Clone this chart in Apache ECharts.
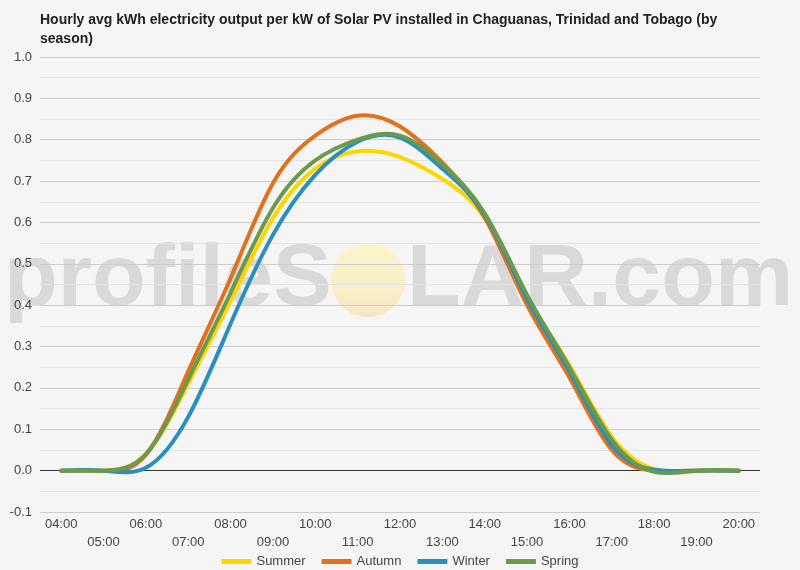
<!DOCTYPE html>
<html>
<head>
<meta charset="utf-8">
<script src="https://cdn.jsdelivr.net/npm/echarts@6/dist/echarts.min.js"></script>
<style>
  html, body { margin: 0; padding: 0; background: #f5f5f5; }
  #chart { width: 800px; height: 570px; }
</style>
</head>
<body>
<div id="chart"></div>
<script>
// hours of the day
var hours = ['04:00', '05:00', '06:00', '07:00', '08:00', '09:00', '10:00', '11:00', '12:00',
             '13:00', '14:00', '15:00', '16:00', '17:00', '18:00', '19:00', '20:00'];

// avg kWh per kW installed, by season
var summer = [0, 0, 0.04, 0.21, 0.41, 0.61, 0.73, 0.772, 0.758, 0.705, 0.61, 0.42, 0.255, 0.082, 0.004, 0, 0];
var autumn = [0, 0, 0.038, 0.24, 0.465, 0.695, 0.81, 0.858, 0.832, 0.745, 0.612, 0.40, 0.225, 0.05, 0, 0, 0];
var winter = [0, 0, 0.007, 0.13, 0.355, 0.57, 0.715, 0.795, 0.805, 0.73, 0.618, 0.415, 0.24, 0.062, 0.002, 0, 0];
var spring = [0, 0, 0.04, 0.22, 0.43, 0.635, 0.75, 0.80, 0.81, 0.74, 0.622, 0.425, 0.25, 0.075, -0.003, 0, 0];

var seasonNames = ['Summer', 'Autumn', 'Winter', 'Spring'];
var seasonColors = ['#fdd600', '#e2711d', '#2a8fbd', '#6b9a4f'];

var chart = echarts.init(document.getElementById('chart'));

// natural cubic spline through the pixel points, returned as svg path data
function splinePath(pts) {
    var n = pts.length, i;
    var h = [], M = new Array(n).fill(0);
    for (i = 0; i < n - 1; i++) h[i] = pts[i + 1][0] - pts[i][0];
    var a = [], b = [], c = [], d = [];
    for (i = 1; i < n - 1; i++) {
        a[i] = h[i - 1];
        b[i] = 2 * (h[i - 1] + h[i]);
        c[i] = h[i];
        d[i] = 6 * ((pts[i + 1][1] - pts[i][1]) / h[i] - (pts[i][1] - pts[i - 1][1]) / h[i - 1]);
    }
    // thomas algorithm
    for (i = 2; i < n - 1; i++) {
        var m = a[i] / b[i - 1];
        b[i] -= m * c[i - 1];
        d[i] -= m * d[i - 1];
    }
    for (i = n - 2; i >= 1; i--) {
        M[i] = (d[i] - (i < n - 2 ? c[i] * M[i + 1] : 0)) / b[i];
    }
    var s = 'M' + pts[0][0] + ' ' + pts[0][1];
    for (i = 0; i < n - 1; i++) {
        var x0 = pts[i][0], y0 = pts[i][1], x1 = pts[i + 1][0], y1 = pts[i + 1][1], hh = h[i];
        var slope = (y1 - y0) / hh;
        var d0 = slope - hh * (2 * M[i] + M[i + 1]) / 6;
        var d1 = slope + hh * (M[i] + 2 * M[i + 1]) / 6;
        s += ' C' + (x0 + hh / 3) + ' ' + (y0 + d0 * hh / 3) + ' ' +
             (x1 - hh / 3) + ' ' + (y1 - d1 * hh / 3) + ' ' + x1 + ' ' + y1;
    }
    return s;
}

function makeSeries(name, values, idx) {
    var s = {
        name: name,
        type: 'custom',
        data: values.map(function (v, i) { return [i, v]; }),
        encode: { x: 0, y: 1 },
        z: 3,
        itemStyle: { color: seasonColors[idx] },
        renderItem: function (params, api) {
            if (params.dataIndex !== 0) return null;
            var pts = values.map(function (v, i) { return api.coord([i, v]); });
            return {
                type: 'path',
                shape: { pathData: splinePath(pts) },
                style: { fill: 'none', stroke: seasonColors[idx], lineWidth: 4, lineJoin: 'round', lineCap: 'round' }
            };
        }
    };
    // black zero line
    if (idx === 0) {
        s.markLine = {
            silent: true,
            symbol: 'none',
            z: 1,
            label: { show: false },
            lineStyle: { color: '#333', width: 1, type: 'solid' },
            data: [{ yAxis: 0 }]
        };
    }
    return s;
}

var option = {
    backgroundColor: '#f5f5f5',
    title: {
        text: 'Hourly avg kWh electricity output per kW of Solar PV installed in Chaguanas, Trinidad and Tobago (by\nseason)',
        left: 35,
        top: 6,
        textStyle: { fontFamily: 'Liberation Sans, Arial', fontSize: 14, fontWeight: 'bold', color: '#222', lineHeight: 19 }
    },
    graphic: [
        {
            type: 'text', left: 4, top: 237, z: -10, silent: true,
            style: { text: 'profileS', font: 'bold 88px "Liberation Sans", Arial', fill: '#d9d9d9' }
        },
        {
            type: 'circle', shape: { cx: 368, cy: 280, r: 37 }, z: -10, silent: true,
            style: {
                fill: new echarts.graphic.LinearGradient(0, 0, 0, 1, [
                    { offset: 0, color: '#f8f5cc' },
                    { offset: 0.65, color: '#f8efc6' },
                    { offset: 1, color: '#f6e5c9' }
                ])
            }
        },
        {
            type: 'text', left: 407, top: 237, z: -10, silent: true,
            style: { text: 'LAR.com', font: 'bold 88px "Liberation Sans", Arial', fill: '#d9d9d9' }
        }
    ],
    legend: {
        top: 550,
        left: 'center',
        icon: 'rect',
        itemWidth: 30,
        itemHeight: 5,
        itemGap: 16,
        textStyle: { fontFamily: 'Liberation Sans, Arial', fontSize: 13, color: '#444' },
        data: seasonNames
    },
    grid: { left: 40, right: 40, top: 57, bottom: 58 },
    xAxis: {
        type: 'category',
        data: hours,
        boundaryGap: true,
        axisLine: { show: false },
        axisTick: { show: false },
        axisLabel: {
            interval: 0,
            color: '#444',
            fontFamily: 'Liberation Sans, Arial',
            fontSize: 13,
            lineHeight: 18,
            margin: 3,
            formatter: function (v, idx) { return idx % 2 ? '\n' + v : v; }
        }
    },
    yAxis: {
        type: 'value',
        min: -0.1,
        max: 1.0,
        interval: 0.1,
        axisLine: { show: false },
        axisTick: { show: false },
        axisLabel: {
            color: '#444',
            fontFamily: 'Liberation Sans, Arial',
            fontSize: 13,
            margin: 8,
            formatter: function (v) { return v.toFixed(1); }
        },
        splitLine: { lineStyle: { color: '#cccccc', width: 1 } },
        minorTick: { show: false, splitNumber: 2 },
        minorSplitLine: { show: true, lineStyle: { color: '#e3e3e3', width: 1 } }
    },
    series: [
        makeSeries('Summer', summer, 0),
        makeSeries('Autumn', autumn, 1),
        makeSeries('Winter', winter, 2),
        makeSeries('Spring', spring, 3)
    ]
};

chart.setOption(option);
</script>
</body>
</html>
